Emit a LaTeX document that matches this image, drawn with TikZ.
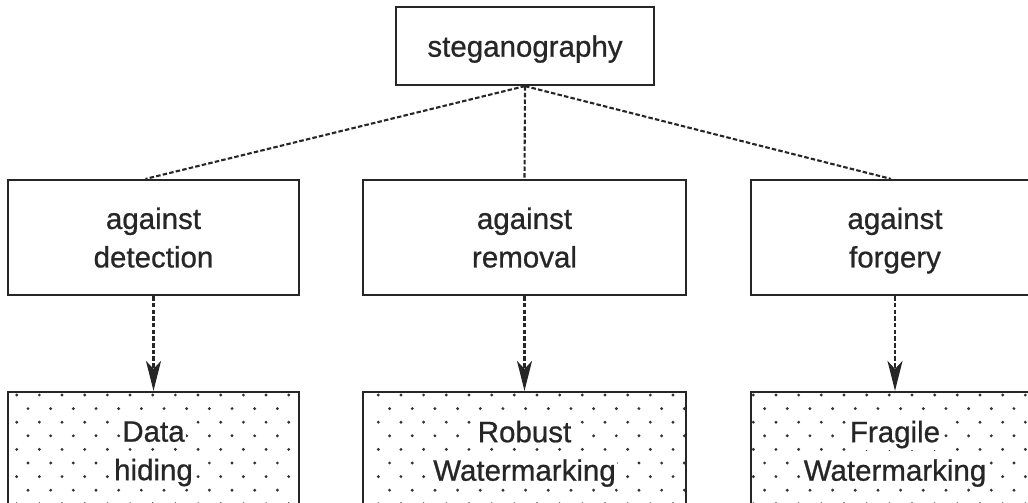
\documentclass[tikz,border=0pt]{standalone}
\usepackage{fontspec}
\setmainfont{Liberation Sans}[FakeBold=0.7]
\usetikzlibrary{arrows.meta}
\definecolor{ink}{HTML}{262626}
\definecolor{dotc}{HTML}{333333}
\begin{document}
\begin{tikzpicture}[x=1pt,y=-1pt,
  box/.style={draw=ink, line width=2.2pt, rectangle, inner sep=0pt, align=center, text=ink,
              text depth=0pt, font=\fontsize{29.5}{38.5}\selectfont},
  link/.style={draw=ink, line width=2.1pt, dash pattern=on 4.5pt off 2.2pt},
  arr/.style={link, -{Stealth[length=30pt,width=15pt,inset=8pt]}}]
\useasboundingbox (0,0) rectangle (1028,503);
\clip (0,0) rectangle (1028,503);
\setlength{\fboxsep}{1.5pt}

% dotted fill of the bottom boxes
\foreach \L/\R/\o in {8/299/8.7, 363/686/15.3, 751/1039/2.3}{
  \begin{scope}
    \clip (\L,392) rectangle (\R,508);
    \foreach \r in {0,...,8}{
      \foreach \k in {0,...,14}{
        \pgfmathsetmacro{\xx}{\L+\o+22.67*\k+mod(\r,2)*11.3}
        \pgfmathsetmacro{\yy}{395+13.6*\r}
        \fill[dotc] (\xx,\yy) circle (1.6);
      }
    }
  \end{scope}
}

% top
\node[box, minimum width=258pt, minimum height=78pt] (steg) at (525,46) {steganography};

% middle row
\node[box, minimum width=291pt, minimum height=115pt] (det) at (153.5,237.5) {against\\detection};
\node[box, minimum width=323pt, minimum height=115pt] (rem) at (524.5,237.5) {against\\removal};
\node[box, minimum width=288pt, minimum height=115pt] (forg) at (895,237.5) {against\\forgery};

% bottom row
\node[box, minimum width=291pt, minimum height=116pt] (dh) at (153.5,450)
  {\colorbox{white}{Data}\\\colorbox{white}{hiding}};
\node[box, minimum width=323pt, minimum height=116pt] (rw) at (524.5,450)
  {\colorbox{white}{Robust}\\\colorbox{white}{Watermarking}};
\node[box, minimum width=288pt, minimum height=116pt] (fw) at (895,450)
  {\colorbox{white}{Fragile}\\\colorbox{white}{Watermarking}};

% connectors
\draw[link] (steg.south) -- ([xshift=-8pt]det.north);
\draw[link] (steg.south) -- (rem.north);
\draw[link] (steg.south) -- ([xshift=-4pt]forg.north);

\draw[arr] (det.south) -- (dh.north);
\draw[arr] (rem.south) -- (rw.north);
\draw[arr] (forg.south) -- (fw.north);
\end{tikzpicture}
\end{document}
